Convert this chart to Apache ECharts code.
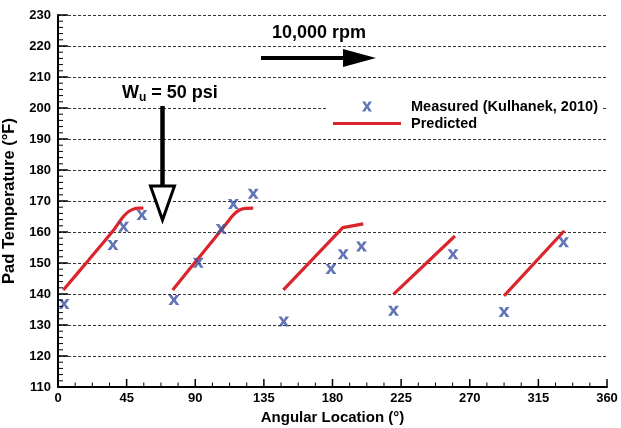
<!DOCTYPE html>
<html><head><meta charset="utf-8">
<script src="https://cdn.jsdelivr.net/npm/echarts@6/dist/echarts.min.js"></script>
<style>html,body{margin:0;padding:0;background:#fff}#c{width:621px;height:428px}</style>
</head><body><div id="c"></div>
<script>
const xTicks = [0, 45, 90, 135, 180, 225, 270, 315, 360];
const yTicks = [110, 120, 130, 140, 150, 160, 170, 180, 190, 200, 210, 220, 230];
const measuredX = [4, 36, 43, 55, 76, 92, 107, 115, 128, 148, 179, 187, 199, 220, 259, 292.5, 331.5];
const measuredY = [136.8, 155.8, 161.7, 165.5, 138.1, 150.1, 161, 169, 172.3, 131.1, 148.1, 152.8, 155.3, 134.6, 152.8, 134.2, 156.7];
const pred1X = [3.5, 20, 37, 41, 45, 49, 53, 56];
const pred1Y = [141.3, 150.9, 161, 163.8, 166.1, 167.3, 167.7, 167.7];
const pred2X = [75.2, 93, 110.6, 115, 119, 123, 128];
const pred2Y = [141.3, 152.1, 162.8, 165.5, 167.1, 167.6, 167.7];
const pred3X = [147.8, 186.7, 200.2];
const pred3Y = [141.3, 161.4, 162.6];
const pred4X = [219.9, 260.3];
const pred4Y = [139.9, 158.7];
const pred5X = [292.5, 332];
const pred5Y = [139.4, 160.4];

const F = '"Liberation Sans", Arial, sans-serif';
const blue = '#3a52a4', red = '#d9252b';
const xPath = 'path://M0,0 L3.2,0 L5,3.2 L6.8,0 L10,0 L6.6,5 L10,10 L6.8,10 L5,6.8 L3.2,10 L0,10 L3.4,5 Z';
const barPath = 'path://M0,0 L68,0 L68,3 L0,3 Z';
const zip = (a, b) => a.map((v, i) => [v, b[i]]);
const predSets = [[pred1X, pred1Y, true], [pred2X, pred2Y, true], [pred3X, pred3Y, false], [pred4X, pred4Y, false], [pred5X, pred5Y, false]];
const G = { left: 58, right: 14, top: 15, bottom: 41 };

const series = [{
  name: 'Measured (Kulhanek, 2010)', type: 'scatter', symbol: xPath, symbolSize: [11, 10],
  itemStyle: { color: blue }, data: zip(measuredX, measuredY), z: 5
}];
predSets.forEach(([xs, ys, sm]) => series.push({
  name: 'Predicted', type: 'line', showSymbol: false, symbol: 'none', smooth: sm ? 0.35 : false,
  lineStyle: { color: red, width: 3.2 }, itemStyle: { color: red }, data: zip(xs, ys), z: 4
}));

const annotations = [
  { type: 'text', z: 10, style: { x: 272, y: 33, text: '10,000 rpm', font: 'bold 18px ' + F, fill: '#000', verticalAlign: 'middle' } },
  { type: 'line', z: 10, shape: { x1: 261, y1: 58, x2: 346, y2: 58 }, style: { stroke: '#000', lineWidth: 4 } },
  { type: 'polygon', z: 10, shape: { points: [[343, 49], [376, 58], [343, 67]] }, style: { fill: '#000' } },
  { type: 'text', z: 10, style: { x: 122, y: 93, text: '{w|W}{s|u}{w| = 50 psi}', verticalAlign: 'middle', fill: '#000',
      rich: { w: { font: 'bold 18px ' + F, fill: '#000' }, s: { font: 'bold 12px ' + F, fill: '#000', verticalAlign: 'bottom', padding: [10, 0, 0, 0] } } } },
  { type: 'line', z: 10, shape: { x1: 162.5, y1: 106, x2: 162.5, y2: 186 }, style: { stroke: '#000', lineWidth: 4.5 } },
  { type: 'polygon', z: 10, shape: { points: [[150.5, 186], [174.5, 186], [162.5, 220]] }, style: { fill: '#fff', stroke: '#000', lineWidth: 3 } }
];

const chart = echarts.init(document.getElementById('c'), null, { renderer: 'canvas' });
chart.setOption({
  animation: false,
  backgroundColor: '#fff',
  grid: Object.assign({ outerBoundsMode: 'none' }, G),
  xAxis: {
    type: 'value', min: xTicks[0], max: xTicks[xTicks.length - 1], interval: 45,
    name: 'Angular Location (°)', nameLocation: 'middle', nameGap: 15,
    nameTextStyle: { fontFamily: F, fontWeight: 'bold', fontSize: 15, color: '#000' },
    axisLine: { show: true, lineStyle: { color: '#000', width: 2 } },
    axisTick: { show: false },
    minorTick: { show: false },
    axisLabel: { fontFamily: F, fontWeight: 'bold', fontSize: 13, color: '#000', margin: 5 },
    splitLine: { show: false }
  },
  yAxis: {
    type: 'value', min: yTicks[0], max: yTicks[yTicks.length - 1], interval: 10,
    name: 'Pad Temperature (°F)', nameLocation: 'middle', nameGap: 28,
    nameTextStyle: { fontFamily: F, fontWeight: 'bold', fontSize: 16.5, color: '#000' },
    axisLine: { show: true, lineStyle: { color: '#000', width: 2 } },
    axisTick: { show: false },
    minorTick: { show: false },
    axisLabel: { fontFamily: F, fontWeight: 'bold', fontSize: 13, color: '#000', margin: 7 },
    splitLine: { show: true, lineStyle: { color: '#000', type: [3, 2], width: 0.8 } }
  },
  legend: {
    orient: 'vertical', left: 328, top: 96, itemWidth: 68, itemHeight: 10, itemGap: 2,
    padding: [3, 5, 3, 5],
    backgroundColor: '#fff',
    data: [{ name: 'Measured (Kulhanek, 2010)', icon: xPath }, { name: 'Predicted', icon: barPath }],
    textStyle: { fontFamily: F, fontWeight: 'bold', fontSize: 14.5, color: '#000', padding: [0, 0, 0, 5] }
  },
  graphic: annotations,
  series: series
});

// axis ticks (major + minor, pointing inside), positioned through the axes' scales
const W = 621, H = 428;
const xMin = xTicks[0], xMax = xTicks[xTicks.length - 1], yMin = yTicks[0], yMax = yTicks[yTicks.length - 1];
function px(v) {
  let p; try { p = chart.convertToPixel({ xAxisIndex: 0 }, v); } catch (e) {}
  if (typeof p !== 'number' || !isFinite(p)) p = G.left + (v - xMin) / (xMax - xMin) * (W - G.left - G.right);
  return p;
}
function py(v) {
  let p; try { p = chart.convertToPixel({ yAxisIndex: 0 }, v); } catch (e) {}
  if (typeof p !== 'number' || !isFinite(p)) p = G.top + (yMax - v) / (yMax - yMin) * (H - G.top - G.bottom);
  return p;
}
const zr = chart.getZr();
const xAxisY = py(yMin), yAxisX = px(xMin);
function addLine(x1, y1, x2, y2, w) {
  try {
    zr.add(new echarts.graphic.Line({ z: 50, silent: true, shape: { x1, y1, x2, y2 }, style: { stroke: '#000', lineWidth: w } }));
  } catch (e) {}
}
xTicks.forEach((v, i) => {
  const p = px(v); addLine(p, xAxisY, p, xAxisY - 8, 1.5);
  if (i < xTicks.length - 1) for (let k = 1; k < 4; k++) { const q = px(v + k * (xTicks[i + 1] - v) / 4); addLine(q, xAxisY, q, xAxisY - 4.5, 1); }
});
yTicks.forEach((v, i) => {
  const p = py(v); addLine(yAxisX, p, yAxisX + 10, p, 1.5);
  if (i < yTicks.length - 1) for (let k = 1; k < 5; k++) { const q = py(v + k * (yTicks[i + 1] - v) / 5); addLine(yAxisX, q, yAxisX + 5, q, 1); }
});
</script></body></html>
